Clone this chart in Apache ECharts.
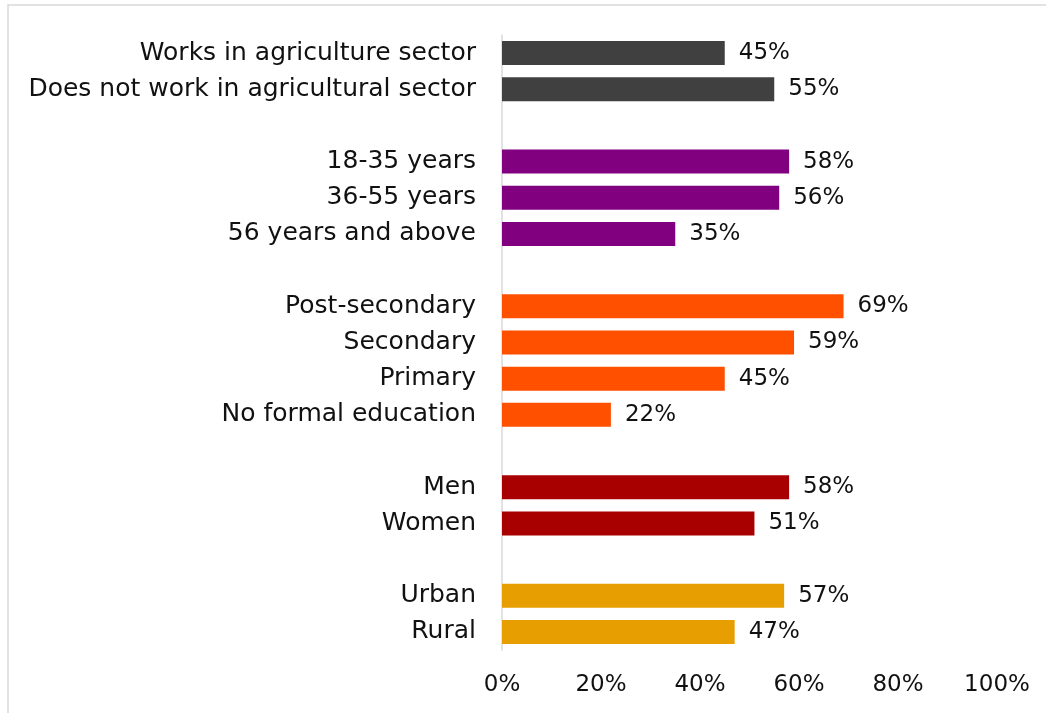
<!DOCTYPE html>
<html>
<head>
<meta charset="utf-8">
<script src="https://cdn.jsdelivr.net/npm/echarts@6/dist/echarts.min.js"></script>
<style>
  html, body { margin: 0; padding: 0; background: #fff; }
  #chart { width: 1046px; height: 713px; }
</style>
</head>
<body>
<div id="chart"></div>
<script>
// Row labels, top to bottom; empty strings are spacer rows between groups
const categories = [
  'Works in agriculture sector', 'Does not work in agricultural sector', '',
  '18-35 years', '36-55 years', '56 years and above', '',
  'Post-secondary', 'Secondary', 'Primary', 'No formal education', '',
  'Men', 'Women', '',
  'Urban', 'Rural'
];
// Share (%) for each row; null on spacer rows
const values = [
  45, 55, null,
  58, 56, 35, null,
  69, 59, 45, 22, null,
  58, 51, null,
  57, 47
];
// Group colour for each row
const groupColors = [
  '#404040', '#404040', null,
  '#800080', '#800080', '#800080', null,
  '#FF5000', '#FF5000', '#FF5000', '#FF5000', null,
  '#A80000', '#A80000', null,
  '#E69E00', '#E69E00'
];
const xTicks = [0, 20, 40, 60, 80, 100];

const FONT = 'DejaVu Sans';
const chart = echarts.init(document.getElementById('chart'), null, { renderer: 'canvas' });

const barData = values.map((v, i) => (v === null ? '-' : {
  value: v,
  itemStyle: { color: groupColors[i] }
}));

chart.setOption({
  animation: false,
  backgroundColor: '#fff',
  textStyle: { fontFamily: FONT },
  graphic: [{
    type: 'rect',
    shape: { x: 8, y: 5, width: 1200, height: 900 },
    style: { fill: 'none', stroke: '#d9d9d9', lineWidth: 1.5 },
    silent: true
  }],
  grid: { left: 502, right: 49, top: 35, bottom: 63, containLabel: false },
  xAxis: {
    type: 'value',
    min: 0,
    max: 100,
    interval: 20,
    axisLine: { show: false },
    axisTick: { show: false },
    splitLine: { show: false },
    axisLabel: {
      formatter: v => (xTicks.includes(v) ? v + '%' : ''),
      fontFamily: FONT,
      fontSize: 23,
      color: '#111',
      margin: 24
    }
  },
  yAxis: {
    type: 'category',
    inverse: true,
    data: categories,
    axisLine: { show: true, lineStyle: { color: '#d9d9d9', width: 1.5 } },
    axisTick: { show: false },
    axisLabel: {
      fontFamily: FONT,
      fontSize: 25,
      color: '#111',
      margin: 26,
      interval: 0
    }
  },
  series: [{
    type: 'bar',
    data: barData,
    barWidth: 24,
    label: {
      show: true,
      position: 'right',
      distance: 14,
      formatter: p => p.value + '%',
      fontFamily: FONT,
      fontSize: 23,
      color: '#111'
    }
  }]
});
</script>
</body>
</html>
